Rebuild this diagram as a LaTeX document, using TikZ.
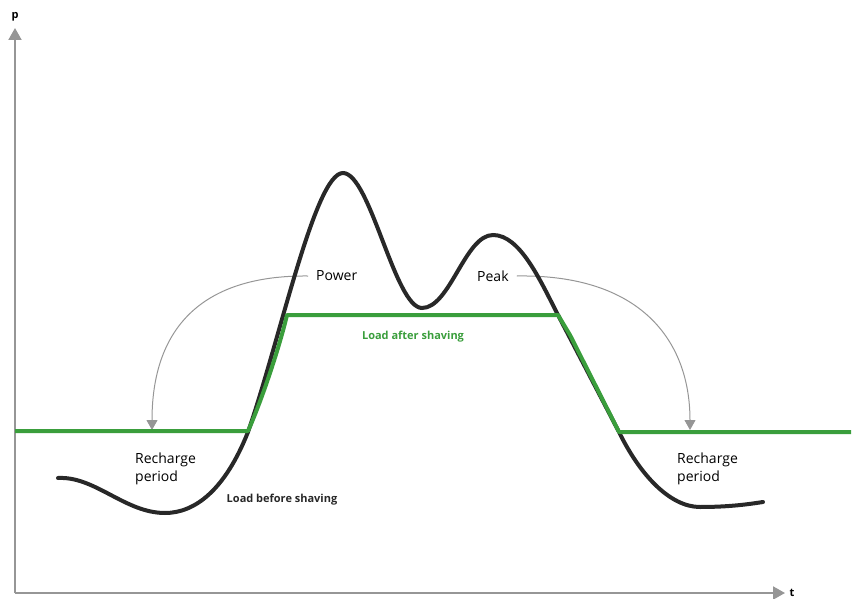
\documentclass[tikz,border=0pt]{standalone}
\usepackage{fontspec}
\setmainfont{Open Sans}
\usetikzlibrary{arrows.meta,positioning}

\definecolor{shavegreen}{RGB}{58,158,60}
\definecolor{loadblack}{RGB}{40,40,40}
\definecolor{axisgray}{RGB}{150,150,150}

\tikzset{
  axisline/.style={axisgray, line width=2pt, -{Triangle[width=13pt,length=12pt]}},
  loadcurve/.style={loadblack, line width=4pt, line cap=round},
  shavedcurve/.style={shavegreen, line width=4pt, line join=round},
  shiftarrow/.style={axisgray, line width=1pt, -{Triangle[width=11pt,length=10pt]}},
  curvetext/.style={font=\fontsize{14}{18}\selectfont, align=left, inner sep=0pt},
  curvetag/.style={font=\fontsize{11}{13}\selectfont\bfseries, inner sep=0pt},
}

\begin{document}
\begin{tikzpicture}[x=1pt, y=-1pt]
    \useasboundingbox (0,0) rectangle (854,599);

    % Axes
    \coordinate (origin) at (15,593);
    \draw[axisline] (origin) -- (15,28);
    \draw[axisline] (origin) -- (785,593);
    \node[curvetag] (paxis) at (15,17) {p};
    \node[curvetag] (taxis) at (792,593) {t};

    % Labels
    \node[curvetext, anchor=west] (power) at (316,276) {Power};
    \node[curvetext, anchor=west] (peak) at (477,276) {Peak};
    \node[curvetext, anchor=west] (rechargeleft) at (135,469) {Recharge\\period};
    \node[curvetext, anchor=west] (rechargeright) at (677,469) {Recharge\\period};
    \node[curvetag, shavegreen] (aftertag) at (413,337) {Load after shaving};
    \node[curvetag, loadblack] (beforetag) at (282,500) {Load before shaving};

    % Energy shifted to recharge periods
    \coordinate (leftdrop) at (152,430);
    \coordinate (rightdrop) at (690,430);
    \draw[shiftarrow] ([xshift=-8pt]power.west) .. controls (200,275) and (152,330) .. (leftdrop);
    \draw[shiftarrow] ([xshift=8pt]peak.east) .. controls (640,274) and (690,340) .. (rightdrop);

    % Load before shaving
    \draw[loadcurve] (58,478) .. controls (95,476) and (125,513) .. (165,513)
      .. controls (195,513) and (225,490) .. (248,432)
      .. controls (280,340) and (315,173) .. (343,173)
      .. controls (370,173) and (395,308) .. (422,308)
      .. controls (450,308) and (465,235) .. (493,235)
      .. controls (520,235) and (540,280) .. (558,315)
      -- (619,432)
      .. controls (640,475) and (670,507) .. (700,507)
      .. controls (730,507) and (750,504) .. (763,502);

    % Load after shaving
    \draw[shavedcurve] (15,431) -- (248,431) .. controls (262,400) and (280,345) .. (287,315)
      -- (558,315) -- (570,335) -- (619,432) -- (851,432);
\end{tikzpicture}
\end{document}
